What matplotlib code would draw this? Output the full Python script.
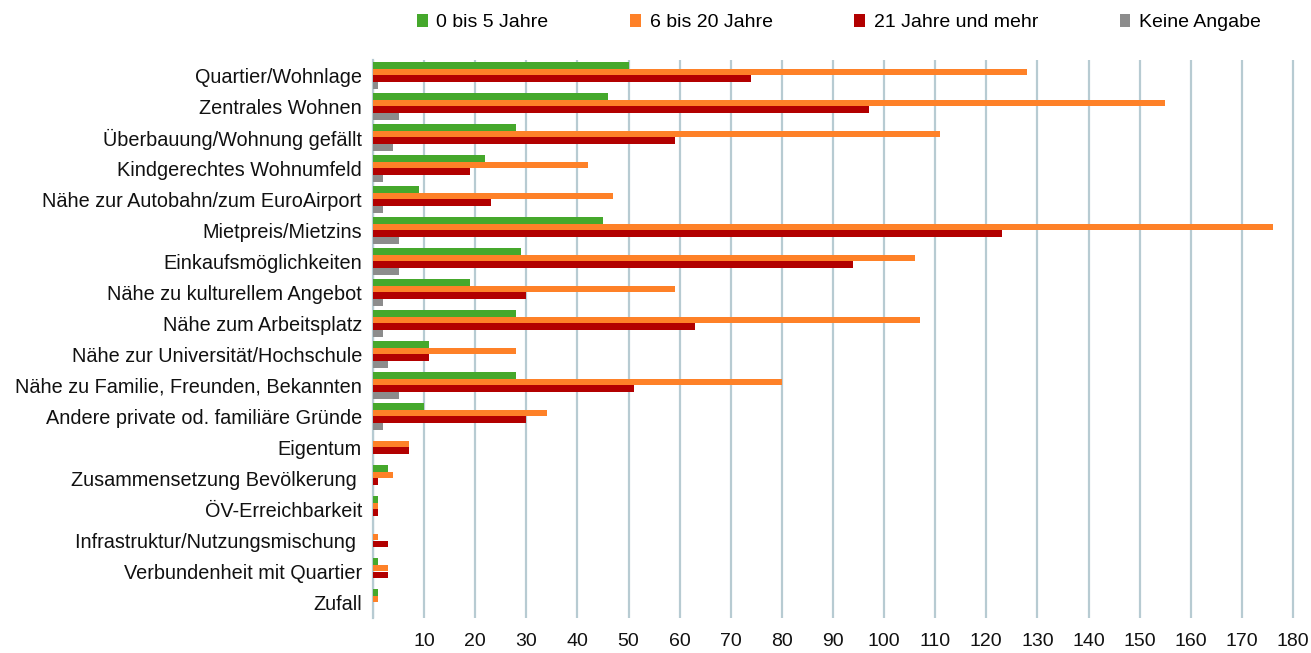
#!/usr/bin/env python
#------------------------------

import numpy as np
import matplotlib
matplotlib.use('Agg')
import matplotlib.pyplot as plt
from matplotlib.patches import Patch

#------------------------------

plt.rcParams['font.family'] = ['Liberation Sans', 'DejaVu Sans']

categories = ['Quartier/Wohnlage', 'Zentrales Wohnen', 'Überbauung/Wohnung gefällt',
              'Kindgerechtes Wohnumfeld', 'Nähe zur Autobahn/zum EuroAirport',
              'Mietpreis/Mietzins', 'Einkaufsmöglichkeiten', 'Nähe zu kulturellem Angebot',
              'Nähe zum Arbeitsplatz', 'Nähe zur Universität/Hochschule',
              'Nähe zu Familie, Freunden, Bekannten', 'Andere private od. familiäre Gründe',
              'Eigentum', 'Zusammensetzung Bevölkerung ', 'ÖV-Erreichbarkeit',
              'Infrastruktur/Nutzungsmischung ', 'Verbundenheit mit Quartier', 'Zufall']

series_names = ['0 bis 5 Jahre', '6 bis 20 Jahre', '21 Jahre und mehr', 'Keine Angabe']

jahre_0_5   = [50, 46, 28, 22, 9, 45, 29, 19, 28, 11, 28, 10, 0, 3, 1, 0, 1, 1]
jahre_6_20  = [128, 155, 111, 42, 47, 176, 106, 59, 107, 28, 80, 34, 7, 4, 1, 1, 3, 1]
jahre_21    = [74, 97, 59, 19, 23, 123, 94, 30, 63, 11, 51, 30, 7, 1, 1, 3, 3, 0]
keine_angabe = [1, 5, 4, 2, 2, 5, 5, 2, 2, 3, 5, 2, 0, 0, 0, 0, 0, 0]

xticks = list(range(0, 181, 10))

#------------------------------

colors = ['#45a82c', '#fe8128', '#b20000', '#8c8c8c']
grid_col = '#b7cbd2'
fs = 14

fig = plt.figure(figsize=(13.11, 6.53), dpi=100)
ax = fig.add_axes([373/1311., 1-618/653., (1295-373)/1311., (618-60)/653.])

y = np.arange(len(categories))
h = 0.225
for i, vals in enumerate([jahre_0_5, jahre_6_20, jahre_21, keine_angabe]):
    ax.barh(y + (i-1.5)*h, vals, height=h, color=colors[i], zorder=3)

ax.set_ylim(len(categories)-0.5, -0.5)
ax.set_xlim(0, 180.4)
ax.set_yticks(y)
ax.set_yticklabels(categories, fontsize=14.3, color='#111111')
ax.tick_params(axis='y', length=0, pad=8)

ax.set_xticks(xticks)
ax.set_xticklabels(['' if v == 0 else str(v) for v in xticks], fontsize=fs, color='#111111')
ax.tick_params(axis='x', length=0, pad=11)

ax.grid(axis='x', color=grid_col, linewidth=1.6, zorder=0)
for s in ['top', 'right', 'bottom']:
    ax.spines[s].set_visible(False)
ax.spines['left'].set_color(grid_col)
ax.spines['left'].set_linewidth(1.6)

handles = [Patch(facecolor=c, edgecolor='none') for c in colors]
fig.legend(handles, series_names, loc='center', bbox_to_anchor=(0.64, 0.966), ncol=4,
           frameon=False, fontsize=fs, handlelength=0.55, handleheight=0.65,
           handletextpad=0.45, columnspacing=4.2)

fig.savefig('out.png', dpi=100)
